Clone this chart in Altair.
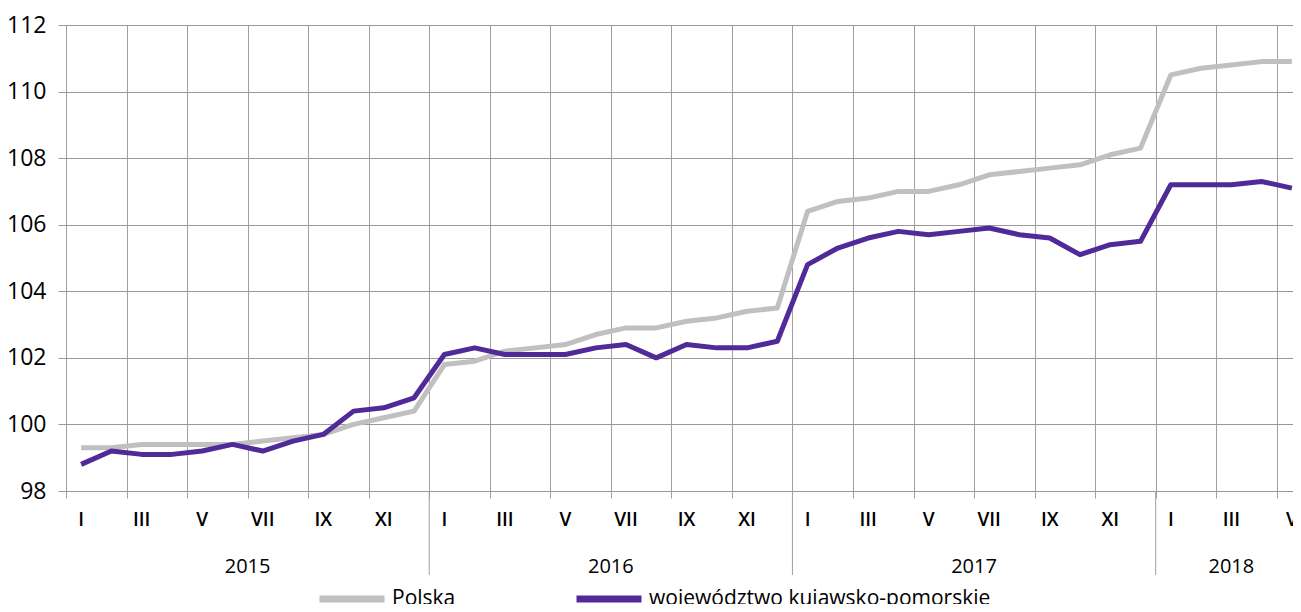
import altair as alt
import pandas as pd

# ---- data ----
years = [2015, 2016, 2017, 2018]
month_names = ["I", "II", "III", "IV", "V", "VI", "VII", "VIII", "IX", "X", "XI", "XII"]
polska = [99.3, 99.3, 99.4, 99.4, 99.4, 99.4, 99.5, 99.6, 99.7, 100.0, 100.2, 100.4,
          101.8, 101.9, 102.2, 102.3, 102.4, 102.7, 102.9, 102.9, 103.1, 103.2, 103.4, 103.5,
          106.4, 106.7, 106.8, 107.0, 107.0, 107.2, 107.5, 107.6, 107.7, 107.8, 108.1, 108.3,
          110.5, 110.7, 110.8, 110.9, 110.9]
kujawsko = [98.8, 99.2, 99.1, 99.1, 99.2, 99.4, 99.2, 99.5, 99.7, 100.4, 100.5, 100.8,
            102.1, 102.3, 102.1, 102.1, 102.1, 102.3, 102.4, 102.0, 102.4, 102.3, 102.3, 102.5,
            104.8, 105.3, 105.6, 105.8, 105.7, 105.8, 105.9, 105.7, 105.6, 105.1, 105.4, 105.5,
            107.2, 107.2, 107.2, 107.3, 107.1]
series_names = ["Polska", "województwo kujawsko-pomorskie"]
series_colors = ["#c0c0c0", "#4f2a98"]
y_ticks = [98, 100, 102, 104, 106, 108, 110, 112]

n = len(polska)
idx = list(range(n))
rows = []
for name, vals in zip(series_names, [polska, kujawsko]):
    for i, v in zip(idx, vals):
        rows.append({"i": i, "value": v, "series": name})
df = pd.DataFrame(rows)

month_df = pd.DataFrame([{"i": i, "label": month_names[i % 12]} for i in idx if (i % 12) % 2 == 0])
year_df = pd.DataFrame([{"x": (y - 2015) * 12 + (min(12, n - (y - 2015) * 12) - 1) / 2, "label": str(y)} for y in years])
sep_df = pd.DataFrame({"x": [k * 12 - 0.5 for k in range(1, len(years))]})
boundaries = [i - 0.5 for i in range(n + 1)]

W, H = 1241, 466
FONT = "Open Sans"
xscale = alt.Scale(domain=[-0.5, n - 0.5], nice=False, zero=False)
yscale = alt.Scale(domain=[98, 112], nice=False, zero=False)

lines = alt.Chart(df).mark_line(strokeWidth=5, strokeJoin="round").encode(
    x=alt.X("i:Q", scale=xscale, axis=alt.Axis(values=boundaries, labels=False, title=None, domain=False,
                                                 grid=True, gridColor="#a0a0a0", gridWidth=1,
                                                 tickColor="#a0a0a0", tickSize=7)),
    y=alt.Y("value:Q", scale=yscale, axis=alt.Axis(values=y_ticks, title=None, domain=False, grid=True,
                                                   gridColor="#999999", gridWidth=1, tickColor="#999999",
                                                   tickSize=8, labelPadding=12, labelFontSize=23,
                                                   labelFont=FONT, labelColor="#000000")),
    color=alt.Color("series:N", sort=series_names,
                    scale=alt.Scale(domain=series_names, range=series_colors),
                    legend=alt.Legend(title=None, orient="none", legendX=250, legendY=538,
                                      direction="horizontal", symbolType="stroke", symbolSize=4225,
                                      symbolStrokeWidth=7, labelFont=FONT, labelFontSize=21,
                                      labelColor="#000000", labelOffset=4, columnPadding=106,
                                      labelLimit=0, padding=0)),
    order=alt.Order("i:Q"),
)

months = alt.Chart(month_df).mark_text(font=FONT, fontSize=19, fontWeight=600, baseline="middle",
                                       color="#000000").encode(
    x=alt.X("i:Q", scale=xscale), y=alt.value(H + 29), text="label:N")

year_labels = alt.Chart(year_df).mark_text(font=FONT, fontSize=20, baseline="middle", color="#000000").encode(
    x=alt.X("x:Q", scale=xscale), y=alt.value(H + 76), text="label:N")

seps = alt.Chart(sep_df).mark_rule(color="#a0a0a0", strokeWidth=1).encode(
    x=alt.X("x:Q", scale=xscale), y=alt.value(H), y2=alt.value(H + 84))

chart = alt.layer(lines, seps, months, year_labels).properties(
    width=W, height=H,
    autosize=alt.AutoSizeParams(type="none"),
    padding={"left": 58, "top": 17, "right": -14, "bottom": 113},
).configure_view(stroke=None).configure(background="#ffffff")

chart.save("out.html", embed_options={"renderer": "svg", "actions": False})
